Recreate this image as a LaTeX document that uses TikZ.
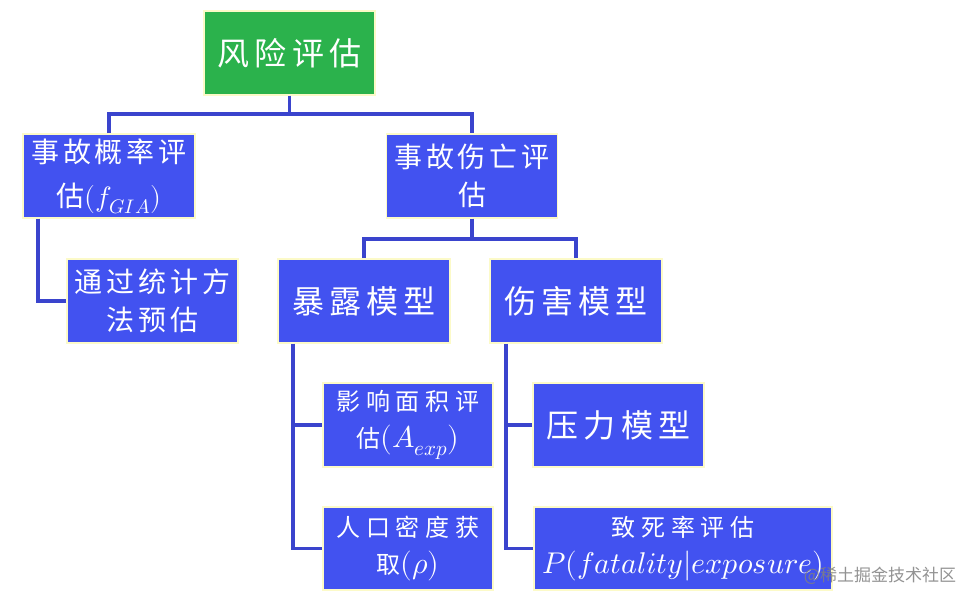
\documentclass[tikz,border=0pt]{standalone}
\usepackage{fontspec}
\usepackage{unicode-math}
\setmathfont{Latin Modern Math}
\newfontfamily\cjkA[LetterSpace=16]{Noto Sans CJK SC}
\newfontfamily\cjkB[LetterSpace=14]{Noto Sans CJK SC}
\newfontfamily\cjkC[LetterSpace=24]{Noto Sans CJK SC}
\newfontfamily\cjkW{Noto Sans CJK SC}
\newcommand{\mthbig}[1]{{\fontsize{30}{37}\selectfont$#1$}}
\definecolor{boxblue}{RGB}{66,82,240}
\definecolor{rootgreen}{RGB}{43,178,76}
\definecolor{boxedge}{RGB}{252,250,200}
\definecolor{linkblue}{RGB}{58,68,205}
\tikzset{
  box/.style={draw=boxedge, line width=1.5pt, fill=boxblue, text=white, align=center,
              inner sep=0pt, minimum height=84pt, minimum width=171pt},
  conn/.style={draw=linkblue, line width=3.8pt},
  bigtxt/.style={font=\fontsize{32}{40}\selectfont\cjkA},
  midtxt/.style={font=\fontsize{28}{38}\selectfont\cjkB},
  smalltxt/.style={font=\fontsize{24}{37}\selectfont\cjkC}
}
\begin{document}
\begin{tikzpicture}[x=1pt,y=-1pt]
\useasboundingbox (0,0) rectangle (980,604);
\fill[white] (0,0) rectangle (980,604);
% nodes
\node[box, bigtxt, fill=rootgreen] (root) at (289.5,53) {风险评估};
\node[box, midtxt, minimum width=172pt, font=\fontsize{28}{44}\selectfont\cjkB] (A) at (109,176) {事故概率评\\估$(f_{GIA})$};
\node[box, midtxt] (B) at (472,176) {事故伤亡评\\估};
\node[box, midtxt] (C) at (152.5,301) {通过统计方\\法预估};
\node[box, bigtxt, minimum width=172pt] (D) at (364,301) {暴露模型};
\node[box, bigtxt, minimum width=172pt] (E) at (576,301) {伤害模型};
\node[box, smalltxt, minimum width=170pt] (F) at (408,425) {影响面积评\\估\mthbig{(A_{exp})}};
\node[box, smalltxt, minimum width=170pt, minimum height=83pt] (G) at (408,548.5) {人口密度获\\取\mthbig{(\rho)}};
\node[box, bigtxt] (H) at (618.5,425) {压力模型};
\node[box, smalltxt, minimum width=298pt, minimum height=83pt] (I) at (683,548.5) {致死率评估\\\mthbig{P(fatality|exposure)}};
% connectors
\draw[conn] (root.south) -- ++(0,20);
\draw[conn] (A.north) -- ++(0,-19) -| (B.north);
\draw[conn] (B.south) -- ++(0,21);
\draw[conn] (D.north) -- ++(0,-19) -| (E.north);
\draw[conn] ([xshift=16pt]A.south west) |- (C.west);
\draw[conn] ([xshift=16pt]D.south west) |- (F.west);
\draw[conn] ([xshift=16pt]D.south west) |- (G.west);
\draw[conn] ([xshift=17pt]E.south west) |- (H.west);
\draw[conn] ([xshift=17pt]E.south west) |- (I.west);
% watermark
\node[text=gray, opacity=0.85, font=\fontsize{17}{20}\selectfont\cjkW, inner sep=0pt] (wm) at (880,576) {@稀土掘金技术社区};
\end{tikzpicture}
\end{document}
